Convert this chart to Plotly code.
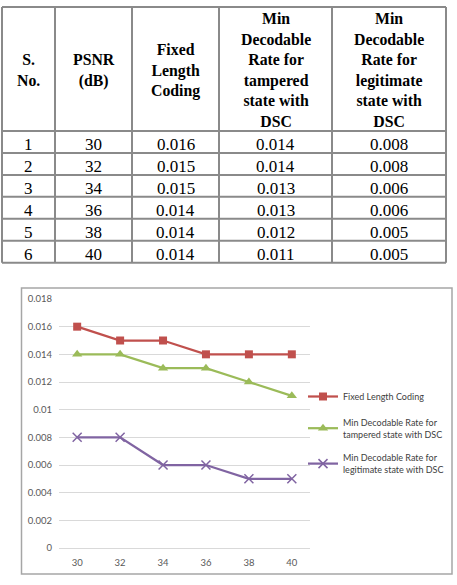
import plotly.graph_objects as go

# ---- data ----
sno = [1, 2, 3, 4, 5, 6]
psnr = [30, 32, 34, 36, 38, 40]
fixed_length = [0.016, 0.015, 0.015, 0.014, 0.014, 0.014]
tampered_dsc = [0.014, 0.014, 0.013, 0.013, 0.012, 0.011]
legit_dsc = [0.008, 0.008, 0.006, 0.006, 0.005, 0.005]

header_labels = [
    "S.<br>No.",
    "PSNR<br>(dB)",
    "Fixed<br>Length<br>Coding",
    "Min<br>Decodable<br>Rate for<br>tampered<br>state with<br>DSC",
    "Min<br>Decodable<br>Rate for<br>legitimate<br>state with<br>DSC",
]
series_names = [
    "Fixed Length Coding",
    "Min Decodable Rate for<br>tampered state with DSC",
    "Min Decodable Rate for<br>legitimate state with DSC",
]
x_labels = [str(v) for v in psnr]
y_tickvals = [0, 0.002, 0.004, 0.006, 0.008, 0.01, 0.012, 0.014, 0.016, 0.018]
y_ticktext = ["0", "0.002", "0.004", "0.006", "0.008", "0.01", "0.012", "0.014", "0.016", "0.018"]

W, H = 457, 585
def px(x):
    return x / W
def py(y):
    return 1 - y / H

fig = go.Figure()

# ---- table (drawn with shapes + annotations) ----
col_edges = [2, 55, 132, 219, 332, 446]
header_top, header_bot, row_h = 7, 131, 21.95
table_cols = [
    [str(v) for v in sno],
    [str(v) for v in psnr],
    [f"{v:.3f}" for v in fixed_length],
    [f"{v:.3f}" for v in tampered_dsc],
    [f"{v:.3f}" for v in legit_dsc],
]
n_rows = len(sno)
row_edges = [header_top, header_bot] + [header_bot + row_h * (k + 1) for k in range(n_rows)]
table_bot = row_edges[-1]

shapes = []
line_style = dict(color="#8A8A8A", width=2)
for yv in row_edges:
    shapes.append(dict(type="line", xref="paper", yref="paper",
                       x0=px(col_edges[0]), x1=px(col_edges[-1]), y0=py(yv), y1=py(yv),
                       line=line_style))
for xv in col_edges:
    shapes.append(dict(type="line", xref="paper", yref="paper",
                       x0=px(xv), x1=px(xv), y0=py(header_top), y1=py(table_bot),
                       line=line_style))

annotations = []
for c, label in enumerate(header_labels):
    xc = (col_edges[c] + col_edges[c + 1]) / 2
    annotations.append(dict(
        xref="paper", yref="paper", x=px(xc), y=py((header_top + header_bot) / 2 + 1),
        text=label, showarrow=False, xanchor="center", yanchor="middle", align="center",
        font=dict(family="Liberation Serif", size=15.8, color="black", weight="bold"),
    ))
for c, col in enumerate(table_cols):
    xc = (col_edges[c] + col_edges[c + 1]) / 2
    for r, val in enumerate(col):
        yc = (row_edges[r + 1] + row_edges[r + 2]) / 2 + 2.5
        annotations.append(dict(
            xref="paper", yref="paper", x=px(xc), y=py(yc),
            text=val, showarrow=False, xanchor="center", yanchor="middle",
            font=dict(family="Liberation Serif", size=17, color="black"),
        ))

# ---- chart ----
colors = ["#C0504D", "#9BBB59", "#8064A2"]
symbols = ["square", "triangle-up", "x-thin"]
series = [fixed_length, tampered_dsc, legit_dsc]
for i, (name, vals) in enumerate(zip(series_names, series)):
    fig.add_trace(go.Scatter(
        x=x_labels, y=vals, name=name, mode="lines+markers",
        line=dict(color=colors[i], width=2.25),
        marker=dict(symbol=symbols[i], size=8 if i == 0 else 9, color=colors[i],
                    line=dict(color=colors[i], width=1.5 if i == 2 else 0)),
        legendgroup=f"g{i}",
    ))

shapes.append(dict(type="rect", xref="paper", yref="paper",
                   x0=px(21.5), x1=px(452), y0=py(574), y1=py(288),
                   line=dict(color="#A6A6A6", width=1.5), fillcolor="rgba(0,0,0,0)", layer="below"))

fig.update_layout(
    width=W, height=H, autosize=False,
    margin=dict(l=0, r=0, t=0, b=0, autoexpand=False),
    paper_bgcolor="white", plot_bgcolor="white",
    font=dict(family="Lato", size=9.5, color="#595959"),
    xaxis=dict(
        domain=[px(59), px(310)], type="category",
        showgrid=False, showline=True, linecolor="#D9D9D9", linewidth=1,
        ticks="", tickfont=dict(size=9.5, color="#595959"),
        ticklabelstandoff=6, automargin=False,
    ),
    yaxis=dict(
        domain=[py(548), py(299)], range=[0, 0.018],
        tickvals=y_tickvals, ticktext=y_ticktext,
        showgrid=True, gridcolor="#D9D9D9", gridwidth=1,
        zeroline=False, showline=False, ticks="",
        tickfont=dict(size=9.5, color="#595959"),
        ticklabelstandoff=6, automargin=False,
    ),
    legend=dict(
        xref="container", yref="container",
        x=px(303), y=py(382), xanchor="left", yanchor="top",
        bgcolor="rgba(0,0,0,0)", font=dict(size=9, color="#404040"),
        traceorder="grouped", tracegroupgap=9,
    ),
    shapes=shapes,
    annotations=annotations,
)

fig.write_html("out.html")
